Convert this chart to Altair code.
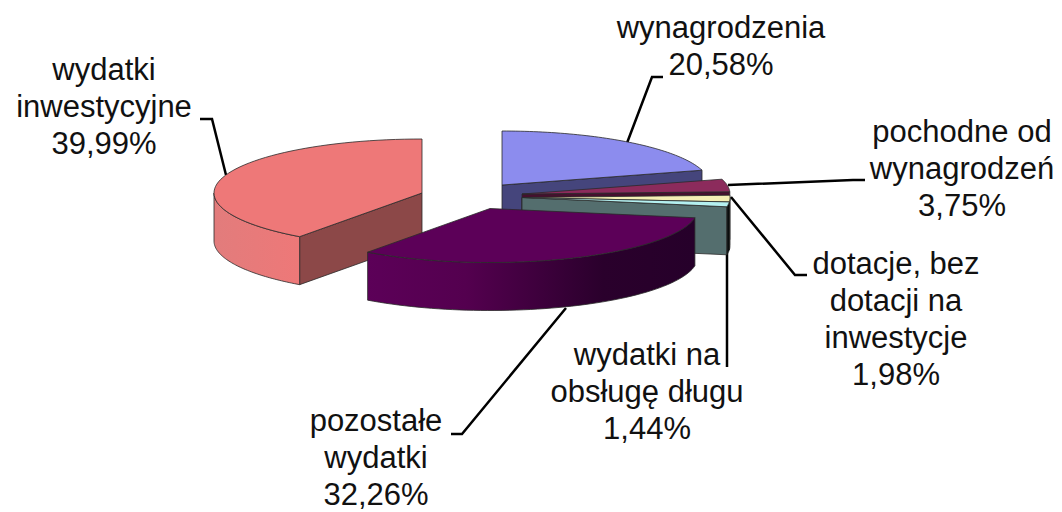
import numpy as np
import pandas as pd
import altair as alt

categories = ["wynagrodzenia", "pochodne od wynagrodzeń", "dotacje, bez dotacji na inwestycje",
              "wydatki na obsługę długu", "pozostałe wydatki", "wydatki inwestycyjne"]
values = [20.58, 3.75, 1.98, 1.44, 32.26, 39.99]

# layout of the exploded 3-D pie
RX, RY, DEPTH = 208, 54, 48
centers = [(502, 185), (522, 194), (522, 197.5), (522, 197.5), (490, 208.5), (422, 193)]
top_colors = ["#8C8CEE", "#8C2B5C", "#F4EFB4", "#B4F0F0", "#5C0058", "#EE7878"]
cut_colors = ["#45457C", "#45102E", "#6B6A48", "#546E6E", None, "#8C4848"]
outer_stops = [None, None,
               [("#55553A", 0), ("#55553A", 1)], [("#101818", 0), ("#000000", 1)],
               [("#5C0058", 0), ("#54004F", 0.3), ("#2A002C", 0.72), ("#26002A", 1)],
               [("#E27C7C", 0), ("#EE7878", 1)]]
EDGE = "#2A2A2A"

label_lines = [["wynagrodzenia"], ["pochodne od", "wynagrodzeń"], ["dotacje, bez", "dotacji na", "inwestycje"],
               ["wydatki na", "obsługę długu"], ["pozostałe", "wydatki"], ["wydatki", "inwestycyjne"]]
label_x = [721, 962, 896, 647, 376, 104]
label_y = [38, 142, 274, 365, 431, 80]
LINE_H = 37
leaders_x = [[627, 652, 663], [728, 853, 865], [731, 795, 807], [727, 727], [566, 462, 451], [226, 212, 200]]
leaders_y = [[143, 77, 77], [185, 180, 180], [197, 275, 275], [250, 367], [308, 434, 434], [175, 119, 119]]

X = alt.X("x:Q", scale=alt.Scale(domain=[8, 1054]), axis=None)
Y = alt.Y("y:Q", scale=alt.Scale(domain=[512, 8]), axis=None)


def poly(xs, ys, fill, stroke=EDGE, sw=0.8):
    df = pd.DataFrame({"x": xs, "y": ys, "i": range(len(xs))})
    return alt.Chart(df).mark_line(fill=fill, stroke=stroke, strokeWidth=sw, strokeJoin="round").encode(
        x=X, y=Y, order=alt.Order("i:Q"))


def arc(c, a, b):
    t = np.radians(np.linspace(a, b, 60))
    return c[0] + RX * np.sin(t), c[1] - RY * np.cos(t)


edges = np.concatenate([[0], np.cumsum(values)]) * 3.6
layers = []


def slice_layers(k):
    c = centers[k]
    a, b = edges[k], edges[k + 1]
    out = []
    # cut face at the end of the slice that looks towards the viewer
    if cut_colors[k]:
        t = b if k < 5 else a
        px = c[0] + RX * np.sin(np.radians(t))
        py = c[1] - RY * np.cos(np.radians(t))
        out.append(poly([c[0], px, px, c[0], c[0]],
                        [c[1], py, py + DEPTH, c[1] + DEPTH, c[1]], cut_colors[k]))
    # outer wall, visible part only
    lo, hi = max(a, 90), min(b, 270)
    if outer_stops[k] and lo < hi:
        x, y = arc(c, lo, hi)
        xs = list(x) + list(x[::-1]) + [x[0]]
        ys = list(y) + list(y[::-1] + DEPTH) + [y[0]]
        out.append(poly(xs, ys, alt.Gradient(gradient="linear", x1=0, x2=1, y1=0, y2=0,
                                             stops=[alt.GradientStop(color=col, offset=o)
                                                    for col, o in outer_stops[k]])))
    # top face
    x, y = arc(c, a, b)
    out.append(poly([c[0]] + list(x) + [c[0]], [c[1]] + list(y) + [c[1]], top_colors[k]))
    return out


for k in [0, 1, 2, 3, 5, 4]:
    layers += slice_layers(k)

lead = pd.DataFrame([{"x": x, "y": y, "i": i, "s": k}
                     for k in range(6) for i, (x, y) in enumerate(zip(leaders_x[k], leaders_y[k]))])
layers.insert(0, alt.Chart(lead).mark_line(color="#000000", strokeWidth=2.5).encode(
    x=X, y=Y, order=alt.Order("i:Q"), detail="s:N"))

rows = []
for k in range(6):
    lines = label_lines[k] + [f"{values[k]:.2f}%".replace(".", ",")]
    for j, line in enumerate(lines):
        rows.append({"x": label_x[k], "y": label_y[k] + j * LINE_H, "t": line})
text = alt.Chart(pd.DataFrame(rows)).mark_text(
    font="Liberation Sans", fontSize=31, color="#111111", align="center", baseline="alphabetic"
).encode(x=X, y=Y, text="t:N")
layers.append(text)

chart = alt.layer(*layers).properties(width=1046, height=504, padding=0, background="#FFFFFF",
                                      autosize=alt.AutoSizeParams(type="none")
                                      ).configure_view(stroke=None)
chart.save("out.html", embed_options={"renderer": "svg", "actions": False})
